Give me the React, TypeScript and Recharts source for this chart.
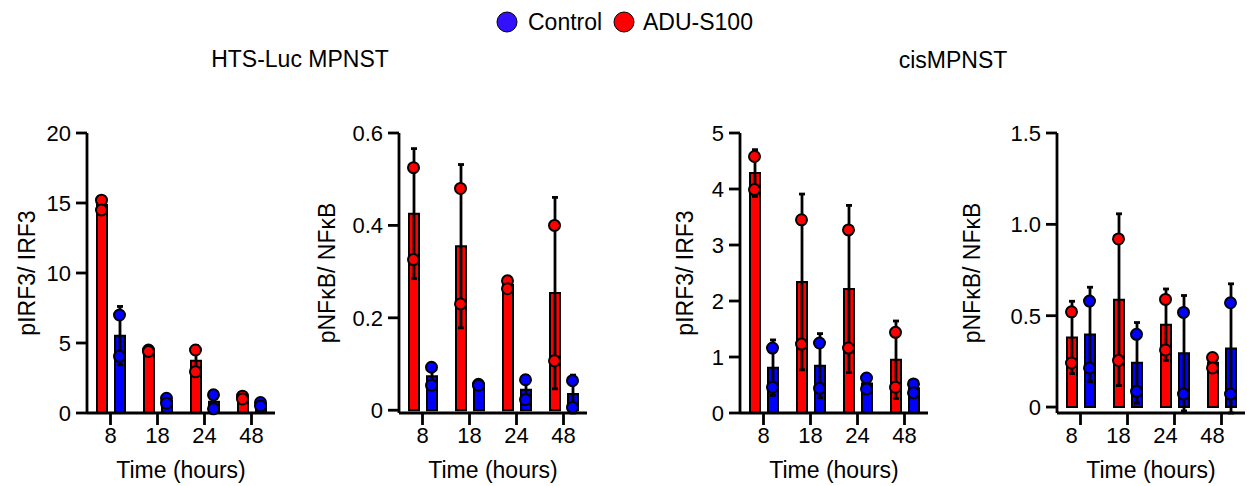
import React from 'react';
import { ComposedChart, Bar, ErrorBar, Scatter, XAxis, YAxis } from 'recharts';

const times = ['8', '18', '24', '48'];

// HTS-Luc MPNST, pIRF3/IRF3 (two replicates per group)
const htsIrfAdu1 = [15.2, 4.5, 4.5, 1.2];
const htsIrfAdu2 = [14.5, 4.4, 2.95, 1.0];
const htsIrfCtl1 = [7.0, 1.05, 1.3, 0.75];
const htsIrfCtl2 = [4.05, 0.7, 0.3, 0.5];

// HTS-Luc MPNST, pNFkB/NFkB
const htsNfkAdu1 = [0.525, 0.48, 0.28, 0.4];
const htsNfkAdu2 = [0.326, 0.23, 0.263, 0.107];
const htsNfkCtl1 = [0.093, 0.056, 0.066, 0.064];
const htsNfkCtl2 = [0.054, 0.054, 0.023, 0.006];

// cisMPNST, pIRF3/IRF3
const cisIrfAdu1 = [4.58, 3.45, 3.27, 1.44];
const cisIrfAdu2 = [3.99, 1.23, 1.16, 0.46];
const cisIrfCtl1 = [1.16, 1.25, 0.625, 0.52];
const cisIrfCtl2 = [0.46, 0.44, 0.43, 0.36];

// cisMPNST, pNFkB/NFkB
const cisNfkAdu1 = [0.521, 0.92, 0.589, 0.271];
const cisNfkAdu2 = [0.241, 0.255, 0.3125, 0.214];
const cisNfkCtl1 = [0.58, 0.398, 0.518, 0.571];
const cisNfkCtl2 = [0.214, 0.086, 0.071, 0.071];

const irfTicksHts = [0, 5, 10, 15, 20];
const nfkTicksHts = [0, 0.2, 0.4, 0.6];
const irfTicksCis = [0, 1, 2, 3, 4, 5];
const nfkTicksCis = [0, 0.5, 1.0, 1.5];

const RED = '#ff0000';
const BLUE = '#0000ff';
const LEGEND_BLUE = '#3311ff';

const mean = (a: number, b: number) => (a + b) / 2;
const sd = (a: number, b: number) => Math.abs(a - b) / Math.SQRT2;

function buildRows(adu1: number[], adu2: number[], ctl1: number[], ctl2: number[]) {
    return times.map((t, i) => ({
        time: t,
        adu: mean(adu1[i], adu2[i]),
        aduSd: sd(adu1[i], adu2[i]),
        ctl: mean(ctl1[i], ctl2[i]),
        ctlSd: sd(ctl1[i], ctl2[i]),
        adu1: adu1[i],
        adu2: adu2[i],
        ctl1: ctl1[i],
        ctl2: ctl2[i],
    }));
}

const dot = (fill: string, dx: number) => (props: any) => (
    <circle cx={props.cx + dx} cy={props.cy} r={5.5} fill={fill} stroke="#000" strokeWidth={2} />
);

const axisStroke = { stroke: '#000', strokeWidth: 2.8 };

interface PanelProps {
    left: number;
    width: number;
    yWidth: number;
    labelOffset: number;
    yLabel: string;
    yMax: number;
    yTicks: number[];
    decimals: number;
    rows: ReturnType<typeof buildRows>;
    tickDx?: number;
}

const Panel: React.FC<PanelProps> = ({
    left, width, yWidth, labelOffset, yLabel, yMax, yTicks, decimals, rows, tickDx = 0,
}) => (
    <div style={{ position: 'absolute', left, top: 100 }}>
        <ComposedChart
            width={width}
            height={386}
            data={rows}
            barGap={8}
            margin={{ top: 33, right: width - yWidth - 188, bottom: 3, left: 0 }}
        >
            <XAxis
                dataKey="time"
                height={70}
                interval={0}
                tickSize={12}
                tickMargin={2}
                axisLine={axisStroke}
                tickLine={axisStroke}
                tick={{ fontSize: 22, fill: '#000', dx: tickDx }}
                label={{ value: 'Time (hours)', position: 'insideBottom', offset: 5, fontSize: 23, fill: '#000' }}
            />
            <YAxis
                width={yWidth}
                domain={[0, yMax]}
                ticks={yTicks}
                interval={0}
                tickSize={11}
                tickMargin={5}
                axisLine={axisStroke}
                tickLine={axisStroke}
                tick={{ fontSize: 22, fill: '#000' }}
                tickFormatter={(v: number) => (v === 0 ? '0' : v.toFixed(decimals))}
                label={{
                    value: yLabel,
                    angle: -90,
                    position: 'insideLeft',
                    offset: labelOffset,
                    fontSize: 23,
                    fill: '#000',
                    style: { textAnchor: 'middle' },
                }}
            />
            <Bar dataKey="adu" fill={RED} stroke="#000" strokeWidth={2} barSize={10} isAnimationActive={false}>
                <ErrorBar dataKey="aduSd" width={3} stroke="#000" strokeWidth={2.8} />
            </Bar>
            <Bar dataKey="ctl" fill={BLUE} stroke="#000" strokeWidth={2} barSize={10} isAnimationActive={false}>
                <ErrorBar dataKey="ctlSd" width={3} stroke="#000" strokeWidth={2.8} />
            </Bar>
            <Scatter dataKey="adu1" shape={dot(RED, -9)} isAnimationActive={false} />
            <Scatter dataKey="adu2" shape={dot(RED, -9)} isAnimationActive={false} />
            <Scatter dataKey="ctl1" shape={dot(BLUE, 9)} isAnimationActive={false} />
            <Scatter dataKey="ctl2" shape={dot(BLUE, 9)} isAnimationActive={false} />
        </ComposedChart>
    </div>
);

export default function App() {
    return (
        <div
            style={{
                position: 'absolute',
                left: 0,
                top: 0,
                width: 1247,
                height: 486,
                background: '#fff',
                fontFamily: "'Liberation Sans', Arial, sans-serif",
            }}
        >
            <svg width={1247} height={100} style={{ position: 'absolute', left: 0, top: 0 }}>
                <circle cx={507} cy={22} r={10} fill={LEGEND_BLUE} stroke="#000" strokeWidth={1} />
                <text x={528} y={30} fontSize={23} fill="#000">Control</text>
                <circle cx={624} cy={22} r={10} fill={RED} stroke="#000" strokeWidth={1} />
                <text x={643} y={30} fontSize={23} fill="#000">ADU-S100</text>
                <text x={300} y={67} fontSize={23} fill="#000" textAnchor="middle">HTS-Luc MPNST</text>
                <text x={953} y={68} fontSize={23} fill="#000" textAnchor="middle">cisMPNST</text>
            </svg>
            <Panel
                left={0} width={290} yWidth={87} labelOffset={27}
                yLabel="pIRF3/ IRF3" yMax={20} yTicks={irfTicksHts} decimals={0}
                rows={buildRows(htsIrfAdu1, htsIrfAdu2, htsIrfCtl1, htsIrfCtl2)}
            />
            <Panel
                left={300} width={300} yWidth={99} labelOffset={27}
                yLabel="pNFκB/ NFκB" yMax={0.6} yTicks={nfkTicksHts} decimals={1}
                rows={buildRows(htsNfkAdu1, htsNfkAdu2, htsNfkCtl1, htsNfkCtl2)}
            />
            <Panel
                left={640} width={300} yWidth={100} labelOffset={45}
                yLabel="pIRF3/ IRF3" yMax={5} yTicks={irfTicksCis} decimals={0}
                rows={buildRows(cisIrfAdu1, cisIrfAdu2, cisIrfCtl1, cisIrfCtl2)}
            />
            <Panel
                left={940} width={307} yWidth={117} labelOffset={32}
                yLabel="pNFκB/ NFκB" yMax={1.5} yTicks={nfkTicksCis} decimals={1}
                rows={buildRows(cisNfkAdu1, cisNfkAdu2, cisNfkCtl1, cisNfkCtl2)}
                tickDx={-9}
            />
        </div>
    );
}
